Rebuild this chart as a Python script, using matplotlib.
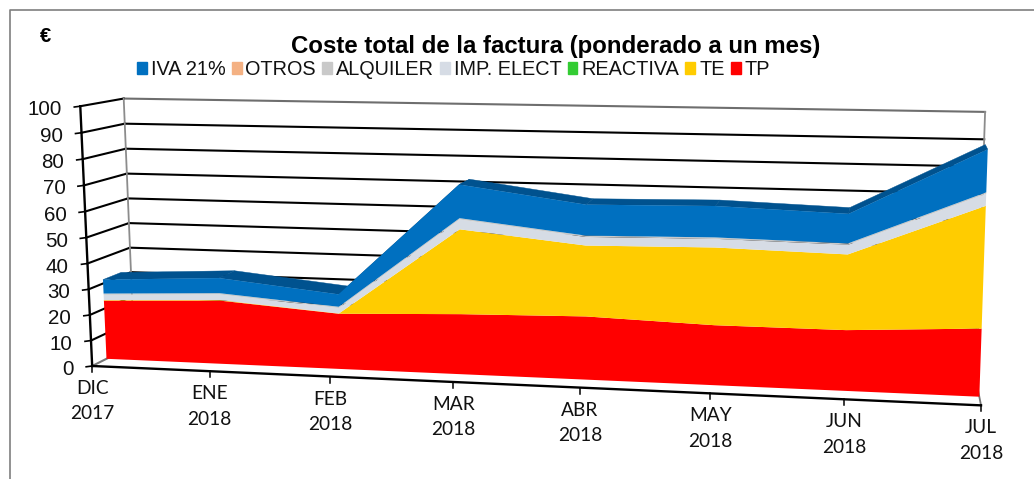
import numpy as np
import matplotlib
matplotlib.use('Agg')
import matplotlib.pyplot as plt
from matplotlib.patches import Patch

plt.rcParams['font.family'] = ['Liberation Sans', 'DejaVu Sans']

W, H = 1034, 479

meses = ['DIC', 'ENE', 'FEB', 'MAR', 'ABR', 'MAY', 'JUN', 'JUL']
anios = ['2017', '2018', '2018', '2018', '2018', '2018', '2018', '2018']
ticks_y = [0, 10, 20, 30, 40, 50, 60, 70, 80, 90, 100]

# de abajo a arriba
tp = [23.2, 24.9, 21.5, 23.1, 24.0, 22.5, 22.5, 24.9]
te = [0.2, 0.2, 0.1, 32.2, 26.6, 28.8, 27.7, 44.1]
reactiva = [0, 0, 0, 0, 0, 0, 0, 0]
imp_elect = [2.1, 2.2, 2.1, 3.7, 3.2, 3.2, 3.5, 4.3]
alquiler = [0.5, 0.5, 0.5, 0.5, 0.5, 0.5, 0.5, 0.5]
otros = [0, 0, 0, 0, 0, 0, 0, 0]
iva = [5.5, 5.9, 4.8, 12.6, 11.5, 11.5, 10.7, 15.2]

series = [tp, te, reactiva, imp_elect, alquiler, otros, iva]
nombres = ['TP', 'TE', 'REACTIVA', 'IMP. ELECT', 'ALQUILER', 'OTROS', 'IVA 21%']
colores = ['#ff0000', '#ffcc00', '#33cc33', '#d6dce5', '#c9c9c9', '#f4b183', '#0070c0']

# perspectiva: (mes, valor, profundidad) -> pixel, ajustada con las esquinas de la caja
calib = [
    (0, 0, 0, 91, 366), (0, 100, 0, 80, 108), (7, 0, 0, 979, 405),
    (1, 0, 0, 210, 371), (3, 0, 0, 455, 382), (6, 0, 0, 843, 399),
    (0, 0, 1, 134, 344), (0, 100, 1, 124, 98), (7, 100, 1, 984, 112),
    (7, 90, 1, 983, 139), (7, 0, 1, 978, 382), (7, 100, 0, 993, 120),
]
A = []
b = []
for t, v, d, px, py in calib:
    A.append([t, v, d, 1, 0, 0, 0, 0, -px * t, -px * v, -px * d])
    A.append([0, 0, 0, 0, t, v, d, 1, -py * t, -py * v, -py * d])
    b += [px, py]
P = np.append(np.linalg.lstsq(np.array(A, float), np.array(b, float), rcond=None)[0], 1.0).reshape(3, 4)


def proj(t, v, d):
    t, v, d = np.broadcast_arrays(np.asarray(t, float), np.asarray(v, float), np.asarray(d, float))
    w = P[2, 0] * t + P[2, 1] * v + P[2, 2] * d + P[2, 3]
    x = (P[0, 0] * t + P[0, 1] * v + P[0, 2] * d + P[0, 3]) / w
    y = (P[1, 0] * t + P[1, 1] * v + P[1, 2] * d + P[1, 3]) / w
    return x, y


fig = plt.figure(figsize=(W / 100, H / 100), dpi=100)
ax = fig.add_axes([0, 0, 1, 1])
ax.set_xlim(0, W)
ax.set_ylim(H, 0)
ax.axis('off')

# marco
ax.plot([9.5, 9.5, W], [H, 9.5, 9.5], color='#7f7f7f', lw=1.2)

xm = np.arange(len(meses))

# paredes y rejilla
for v in ticks_y:
    x, y = proj([0, 7], v, 1)
    ax.plot(x, y, color='#6e6e6e' if v == 100 else 'black', lw=1.5, zorder=1)
    x, y = proj(0, v, [0, 1])
    ax.plot(x, y, color='#777777' if v == 0 else 'black', lw=1.5, zorder=1)
for t in [0, 7]:
    x, y = proj(t, [0, 100], 1)
    ax.plot(x, y, color='#8c8c8c', lw=1.3, zorder=1)
x, y = proj(7, 0, [0, 1])
ax.plot(x, y, color='#777777', lw=1.3, zorder=1)

# ejes delanteros
x, y = proj(0, [0, 100], 0)
ax.plot(x, y, color='black', lw=1.7, zorder=5)
x, y = proj([0, 7], 0, 0)
ax.plot(x, y, color='black', lw=1.7, zorder=5)

for v, s in zip(ticks_y, ticks_y):
    x0, y0 = proj(0, v, 0)
    ax.plot([x0 - 6, x0], [y0 + 0.8, y0], color='black', lw=1.2, zorder=5)
    ax.annotate(str(s), (x0, y0), xytext=(-18.5, -1.5), textcoords='offset pixels',
                ha='right', va='center_baseline', fontsize=14.8, color='#111111')

for i, (m, a) in enumerate(zip(meses, anios)):
    x0, y0 = proj(i, 0, 0)
    ax.plot([x0, x0], [y0, y0 + 6], color='black', lw=1.1, zorder=5)
    ax.text(x0, y0 + 22.5, m, ha='center', va='center', fontsize=13.8, family='Lato', color='#111111')
    ax.text(x0, y0 + 48, a, ha='center', va='center', fontsize=13.8, family='Lato', color='#111111')

# areas
d_front = 0.33
d_back = 0.76
acum = np.cumsum(np.array(series, float), axis=0)
total = acum[-1]

# cara superior
for i in range(len(xm) - 1):
    xa, ya = proj([xm[i], xm[i + 1], xm[i + 1], xm[i]],
                  [total[i], total[i + 1], total[i + 1], total[i]],
                  [d_front, d_front, d_back, d_back])
    ax.fill(xa, ya, color='#00528f', lw=0.3, zorder=2)

base = np.zeros(len(xm))
for cum, col in zip(acum, colores):
    if np.any(cum > base):
        xa1, ya1 = proj(xm, cum, d_front)
        xa0, ya0 = proj(xm, base, d_front)
        ax.fill(np.r_[xa1, xa0[::-1]], np.r_[ya1, ya0[::-1]], color=col, lw=0, zorder=3)
    base = cum

ax.text(556, 46, 'Coste total de la factura (ponderado a un mes)', ha='center', va='center',
        fontsize=17.3, fontweight='bold', color='black')
ax.text(46, 36, '€', ha='center', va='center', fontsize=14.5, fontweight='bold', color='black')

handles = [Patch(color=c, label=n) for n, c in zip(nombres[::-1], colores[::-1])]
ax.legend(handles=handles, ncol=7, frameon=False, loc='center', bbox_to_anchor=(453.5 / W, 1 - 69.5 / H),
          fontsize=14.3, handlelength=0.5, handleheight=0.5, handletextpad=0.2, columnspacing=0.3,
          borderpad=0, borderaxespad=0, labelcolor='#111111')

fig.savefig('out.png', dpi=100)
